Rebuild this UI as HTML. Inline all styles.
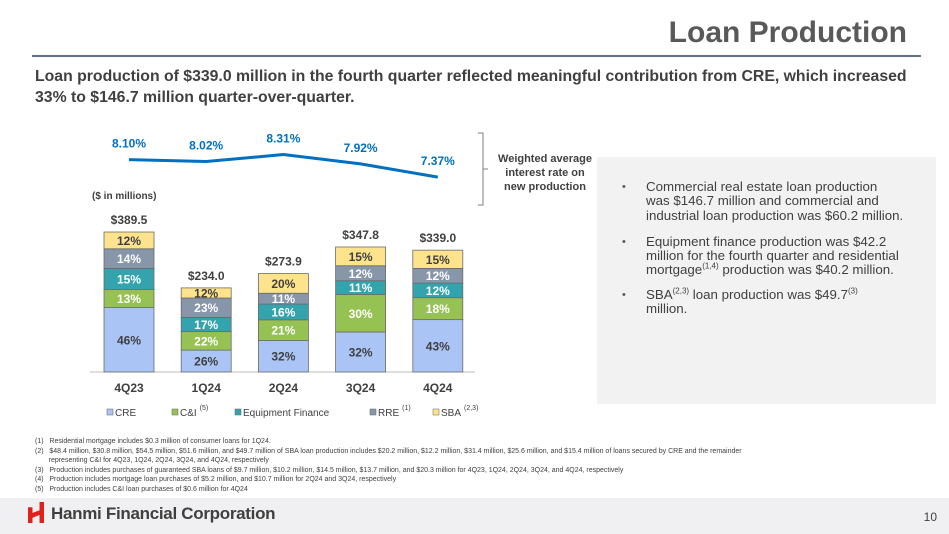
<!DOCTYPE html>
<html><head><meta charset="utf-8"><style>
body{margin:0;width:949px;height:534px;position:relative;background:#fff;font-family:"Liberation Sans",Arial,sans-serif;overflow:hidden}
.abs{position:absolute}
ul.b{list-style:none}
ul.b li{position:relative}
ul.b li::before{content:"•";position:absolute;left:-24px;top:0;font-size:11px;color:#595959}
sup{line-height:0;font-size:8px}
</style></head><body>
<div class="abs" style="right:42px;top:16px;font-size:30px;font-weight:bold;color:#595959">Loan Production</div>
<div class="abs" style="left:32px;width:889px;top:55px;height:2px;background:#5f7189"></div>
<div class="abs" style="left:35px;top:66px;width:900px;font-size:15.8px;font-weight:bold;color:#404040;line-height:21px">Loan production of $339.0 million in the fourth quarter reflected meaningful contribution from CRE, which increased<br>33% to $146.7 million quarter-over-quarter.</div>

<svg class="abs" style="left:0;top:0" width="949" height="534" id="chart"></svg>

<div class="abs" style="left:493px;top:152px;width:104px;text-align:center;font-size:11px;font-weight:bold;color:#404040;line-height:14px">Weighted average<br>interest rate on<br>new production</div>

<div class="abs" style="left:597px;top:157px;width:339px;height:247px;background:#f2f2f2"></div>
<ul class="abs b" style="left:622px;top:180px;width:290px;margin:0;padding:0 0 0 24px;font-size:13.3px;color:#404040;line-height:14.3px">
<li style="margin-bottom:12px">Commercial real estate loan production<br>was $146.7 million and commercial and<br>industrial loan production was $60.2 million.</li>
<li style="margin-bottom:10px">Equipment finance production was $42.2<br>million for the fourth quarter and residential<br>mortgage<sup>(1,4)</sup> production was $40.2 million.</li>
<li>SBA<sup>(2,3)</sup> loan production was $49.7<sup>(3)</sup><br>million.</li>
</ul>

<div class="abs" style="left:35px;top:437px;width:900px;font-size:7px;color:#404040;line-height:9.6px">
<div>(1)&nbsp;&nbsp; Residential mortgage includes $0.3 million of consumer loans for 1Q24.</div>
<div>(2)&nbsp;&nbsp; $48.4 million, $30.8 million, $54.5 million, $51.6 million, and $49.7 million of SBA loan production includes $20.2 million, $12.2 million, $31.4 million, $25.6 million, and $15.4 million of loans secured by CRE and the remainder<br>&nbsp;&nbsp;&nbsp;&nbsp;&nbsp;&nbsp; representing C&amp;I for 4Q23, 1Q24, 2Q24, 3Q24, and 4Q24, respectively</div>
<div>(3)&nbsp;&nbsp; Production includes purchases of guaranteed SBA loans of $9.7 million, $10.2 million, $14.5 million, $13.7 million, and $20.3 million for 4Q23, 1Q24, 2Q24, 3Q24, and 4Q24, respectively</div>
<div>(4)&nbsp;&nbsp; Production includes mortgage loan purchases of $5.2 million, and $10.7 million for 2Q24 and 3Q24, respectively</div>
<div>(5)&nbsp;&nbsp; Production includes C&amp;I loan purchases of $0.6 million for 4Q24</div>
</div>
<div class="abs" style="left:0;right:0;top:498px;height:36px;background:#f0f0f2"></div>
<div class="abs" style="left:28px;top:502px;width:16px;height:21px;background:#e0201b;clip-path:polygon(0 25%,28% 25%,28% 52%,72% 40%,72% 0,100% 0,100% 100%,72% 100%,72% 62%,28% 75%,28% 100%,0 100%)"></div>
<div class="abs" style="left:51px;top:504px;font-size:17px;font-weight:bold;color:#3f3f3f;letter-spacing:-0.3px">Hanmi Financial Corporation</div>
<div class="abs" style="right:12px;top:510px;font-size:12px;color:#404040">10</div>

<script>
const quarters=["4Q23","1Q24","2Q24","3Q24","4Q24"];
const totals=[389.5,234.0,273.9,347.8,339.0];
const rates=[8.10,8.02,8.31,7.92,7.37];
const cre=[46,26,32,32,43];
const cni=[13,22,21,30,18];
const ef=[15,17,16,11,12];
const rre=[14,23,11,12,12];
const sba=[12,12,20,15,15];
const NS="http://www.w3.org/2000/svg";
const svg=document.getElementById('chart');
function mk(t,a,p){const e=document.createElementNS(NS,t);for(const k in a)e.setAttribute(k,a[k]);(p||svg).appendChild(e);return e;}
const x0=129,dx=77.2,bw=50,base=372,scale=0.3594;
const xOf=i=>x0+i*dx;
const yOf=v=>base-v*scale;
const rY=r=>162-(r-8.0)*24;
const series=[{d:cre,c:"#a9c4f5",t:"#404040",n:"cre"},{d:cni,c:"#96c253",t:"#fff",n:"cni"},{d:ef,c:"#33a3ad",t:"#fff",n:"equipment-finance"},{d:rre,c:"#8796a8",t:"#fff",n:"rre"},{d:sba,c:"#fde48c",t:"#404040",n:"sba"}];
const ax=mk('line',{x1:90,x2:475,y1:base,y2:base,stroke:"#bfbfbf"});


let t=mk('text',{x:92,y:199,'font-size':10,'font-weight':'bold',fill:'#404040'});t.textContent="($ in millions)";


quarters.forEach((q,i)=>{
  const cx=xOf(i);
  const lbl=mk('text',{x:cx,y:392,'text-anchor':'middle','font-size':12,'font-weight':'bold',fill:'#404040'});lbl.textContent=q;
  
  
  const sum=series.reduce((s,se)=>s+se.d[i],0);
  let acc=0;
  series.forEach(se=>{
    const v=totals[i]*se.d[i]/sum;
    const y1=yOf(acc+v),y2=yOf(acc);
    const r=mk('rect',{x:cx-bw/2,y:y1,width:bw,height:y2-y1,fill:se.c,stroke:"#6b6b6b",'stroke-width':0.8});
    
    
    const tx=mk('text',{x:cx,y:(y1+y2)/2+4.5,'text-anchor':'middle','font-size':12,'font-weight':'bold',fill:se.t});tx.textContent=se.d[i]+"%";
    
    
    acc+=v;
  });
  const tl=mk('text',{x:cx,y:yOf(totals[i])-8,'text-anchor':'middle','font-size':12,'font-weight':'bold',fill:'#404040'});tl.textContent="$"+totals[i].toFixed(1);
  
  
  const rl=mk('text',{x:cx,y:rY(rates[i])-12,'text-anchor':'middle','font-size':12,'font-weight':'bold',fill:'#0070c0'});rl.textContent=rates[i].toFixed(2)+"%";
  
  
});
const pl=mk('polyline',{points:rates.map((r,i)=>xOf(i)+","+rY(r)).join(" "),fill:"none",stroke:"#0070c0",'stroke-width':3});


const br=mk('path',{d:"M478 133 H483 V205 H478 M483 169 H488",fill:"none",stroke:"#7f7f7f"});


const leg=[["CRE","#a9c4f5",107,""],["C&I","#96c253",172,"(5)"],["Equipment Finance","#33a3ad",235,""],["RRE","#8796a8",370,"(1)"],["SBA","#fde48c",433,"(2,3)"]];
leg.forEach(l=>{
  const s=mk('rect',{x:l[2],y:409,width:6,height:6,fill:l[1],stroke:"#666",'stroke-width':0.5});
  
  
  const tx=mk('text',{x:l[2]+8,y:416,'font-size':10,fill:'#404040'});tx.textContent=l[0];
  
  
  if(l[3]){const sp=mk('text',{x:l[2]+8+tx.getComputedTextLength()+3,y:410,'font-size':7,fill:'#404040'});sp.textContent=l[3];}
});
</script>
</body></html>
